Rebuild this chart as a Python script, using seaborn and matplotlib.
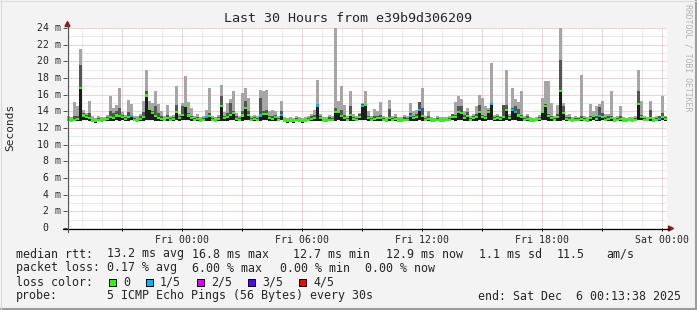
import numpy as np
import pandas as pd
import matplotlib
matplotlib.use("Agg")
import matplotlib.pyplot as plt
import matplotlib.dates as mdates
import matplotlib.transforms as mtransforms
from matplotlib.patches import Rectangle, Polygon
from matplotlib.lines import Line2D
import seaborn as sns

# ---------------- data (9-minute bins, 30 hours) ----------------
title = "Last 30 Hours from e39b9d306209"
start_time = "2025-12-04 18:13:38"
end_time = "2025-12-06 00:13:38"

# median rtt (ms)
med = [
    13.0, 12.9, 13.0, 13.1, 16.8, 13.5, 13.3, 13.2, 12.9, 12.8, 13.0, 12.9, 13.0, 13.1, 13.3, 13.2, 13.5, 13.4, 13.3, 13.1,
    13.3, 13.4, 13.0, 12.9, 13.1, 13.3, 15.9, 14.3, 13.8, 13.4, 13.2, 13.1, 13.0, 13.2, 13.0, 13.1, 13.9, 13.2, 13.6, 14.6,
    13.5, 13.2, 13.0, 13.1, 12.9, 13.0, 13.3, 13.4, 13.0, 12.9, 13.1, 14.6, 13.2, 13.3, 13.6, 13.8, 13.1, 13.0, 13.5, 14.4,
    13.6, 13.0, 13.1, 13.0, 13.5, 13.7, 13.7, 13.2, 13.1, 13.3, 13.0, 13.6, 12.9, 12.8, 12.9, 12.8, 13.0, 12.9, 12.8, 12.9,
    13.0, 13.1, 13.2, 14.7, 13.2, 12.9, 12.9, 13.0, 13.0, 13.9, 13.9, 13.4, 13.2, 13.0, 13.6, 13.1, 13.0, 13.3, 14.6, 14.8,
    13.2, 13.0, 13.1, 13.2, 13.2, 13.0, 12.9, 13.2, 13.0, 13.1, 12.9, 12.9, 13.0, 13.0, 13.4, 13.2, 13.3, 14.2, 13.4, 13.0,
    13.1, 12.9, 12.9, 13.0, 12.9, 12.9, 13.0, 13.0, 13.3, 13.3, 13.9, 13.8, 13.2, 13.4, 13.0, 13.2, 13.3, 13.9, 13.3, 13.2,
    13.9, 14.9, 13.1, 13.2, 13.1, 13.3, 14.2, 13.2, 14.2, 13.9, 13.5, 13.3, 13.0, 13.1, 12.9, 12.9, 13.0, 13.1, 13.9, 14.6,
    13.4, 13.2, 13.0, 13.3, 16.4, 13.8, 13.1, 13.0, 12.9, 13.0, 13.0, 13.1, 13.0, 12.9, 13.2, 13.4, 13.1, 13.4, 13.3, 13.0,
    13.1, 13.2, 12.9, 13.0, 13.1, 12.9, 12.9, 13.0, 12.9, 13.0, 14.9, 13.3, 13.0, 13.0, 13.2, 12.9, 13.0, 13.1, 13.3, 13.1,
]
# lowest ping (ms)
lo = [
    12.8, 12.7, 12.8, 12.9, 12.9, 13.0, 13.0, 12.9, 12.7, 12.6, 12.8, 12.7, 12.8, 12.9, 12.9, 12.9, 13.0, 12.9, 13.0, 12.9,
    12.9, 13.0, 12.8, 12.7, 12.9, 12.9, 13.0, 13.0, 13.0, 12.9, 12.9, 12.9, 12.8, 12.9, 12.8, 12.9, 13.0, 12.9, 13.0, 13.0,
    13.0, 12.9, 12.8, 12.9, 12.7, 12.8, 12.9, 12.9, 12.8, 12.7, 12.9, 12.9, 12.9, 12.9, 13.0, 13.0, 12.9, 12.8, 12.9, 13.0,
    13.0, 12.8, 12.9, 12.8, 12.9, 13.0, 13.0, 12.9, 12.9, 12.9, 12.8, 13.0, 12.7, 12.6, 12.7, 12.6, 12.8, 12.7, 12.6, 12.7,
    12.8, 12.9, 12.9, 12.9, 12.9, 12.7, 12.7, 12.8, 12.8, 12.9, 13.0, 12.9, 12.9, 12.8, 12.9, 12.9, 12.8, 13.0, 13.0, 13.0,
    12.9, 12.8, 12.9, 12.9, 12.9, 12.8, 12.7, 12.9, 12.8, 12.9, 12.7, 12.7, 12.8, 12.8, 12.9, 12.9, 12.9, 13.0, 12.9, 12.8,
    12.9, 12.7, 12.7, 12.8, 12.7, 12.7, 12.8, 12.8, 13.0, 12.9, 13.0, 13.0, 12.9, 12.9, 12.8, 12.9, 12.9, 13.0, 12.9, 12.9,
    13.0, 13.0, 12.9, 12.9, 12.9, 12.9, 13.0, 12.9, 13.0, 13.0, 12.9, 12.9, 12.8, 12.9, 12.7, 12.7, 12.8, 12.9, 13.0, 13.0,
    12.9, 12.9, 12.8, 12.9, 12.9, 13.0, 12.9, 12.8, 12.7, 12.8, 12.8, 12.9, 12.8, 12.7, 12.9, 13.0, 12.9, 12.9, 13.0, 12.8,
    12.9, 12.9, 12.7, 12.8, 12.9, 12.7, 12.7, 12.8, 12.7, 12.8, 13.0, 13.0, 12.8, 12.8, 12.9, 12.7, 12.8, 12.9, 13.0, 12.9,
]
# second-highest ping (ms)
hi = [
    13.1, 13.1, 13.4, 13.5, 19.6, 13.8, 13.6, 13.8, 13.1, 13.0, 13.2, 13.1, 13.1, 13.3, 14.0, 13.8, 14.0, 14.4, 13.6, 13.3,
    13.9, 13.6, 13.2, 13.1, 13.4, 13.9, 16.5, 14.4, 14.0, 14.6, 13.8, 13.4, 13.1, 13.6, 13.2, 13.3, 14.8, 13.4, 14.6, 14.8,
    13.8, 13.5, 13.2, 13.3, 13.1, 13.2, 13.5, 13.8, 13.2, 13.1, 13.3, 15.8, 13.5, 13.8, 15.0, 14.0, 13.4, 13.2, 14.1, 15.2,
    14.0, 13.2, 13.3, 13.2, 15.6, 14.0, 14.2, 13.5, 13.4, 13.6, 13.2, 14.0, 13.1, 13.0, 13.1, 13.0, 13.2, 13.1, 13.0, 13.1,
    13.2, 13.4, 13.6, 14.9, 13.5, 13.1, 13.1, 13.3, 13.2, 14.4, 14.1, 14.2, 13.6, 13.2, 14.6, 13.3, 13.2, 13.7, 14.9, 14.9,
    13.5, 13.2, 13.5, 13.4, 13.6, 13.2, 13.1, 14.3, 13.2, 13.3, 13.1, 13.1, 13.3, 13.2, 13.8, 13.5, 13.7, 15.1, 14.4, 13.2,
    13.4, 13.1, 13.0, 13.2, 13.1, 13.1, 13.1, 13.2, 13.7, 13.6, 14.6, 14.6, 13.6, 13.9, 13.2, 13.5, 13.7, 14.8, 13.6, 13.5,
    14.2, 15.0, 13.3, 13.5, 13.3, 14.8, 14.8, 13.4, 14.4, 14.6, 14.3, 13.6, 13.2, 13.4, 13.1, 13.0, 13.1, 13.3, 14.0, 14.9,
    13.7, 13.5, 13.2, 13.7, 20.2, 14.6, 13.3, 13.3, 13.1, 13.2, 13.2, 13.4, 13.2, 13.1, 13.5, 13.6, 13.5, 14.5, 13.8, 13.3,
    13.4, 13.5, 13.1, 13.2, 13.4, 13.1, 13.0, 13.1, 13.1, 13.2, 16.4, 13.6, 13.2, 13.1, 14.2, 13.1, 13.2, 13.4, 13.8, 13.3,
]
# highest ping (ms)
top = [
    13.4, 13.3, 15.1, 14.6, 21.5, 14.2, 13.8, 15.2, 13.4, 13.2, 13.5, 13.3, 13.3, 13.6, 15.9, 14.4, 14.8, 16.8, 13.9, 13.6,
    15.4, 14.9, 13.5, 13.4, 13.7, 15.2, 19.0, 15.2, 15.0, 16.4, 14.9, 14.0, 13.4, 14.8, 13.5, 13.6, 17.0, 13.7, 15.0, 18.2,
    15.1, 14.4, 13.5, 13.7, 13.3, 13.4, 14.2, 16.8, 13.4, 13.3, 13.6, 17.2, 13.9, 15.0, 15.5, 16.4, 13.8, 13.5, 16.2, 16.8,
    15.6, 13.5, 13.6, 13.4, 16.6, 16.4, 16.6, 14.0, 14.2, 14.0, 13.5, 15.2, 13.3, 13.2, 13.3, 13.2, 13.5, 13.3, 13.2, 13.3,
    13.4, 13.7, 14.2, 17.8, 13.7, 13.3, 13.3, 13.6, 13.5, 24.0, 15.3, 17.0, 14.8, 13.5, 16.4, 13.7, 13.4, 13.8, 15.0, 16.4,
    14.0, 13.4, 14.3, 14.0, 15.1, 13.4, 13.3, 15.4, 13.4, 13.7, 13.3, 13.3, 13.6, 13.5, 15.0, 14.0, 14.2, 15.1, 16.8, 13.5,
    14.0, 13.3, 13.2, 13.4, 13.3, 13.3, 13.3, 13.4, 13.7, 15.1, 15.8, 15.5, 14.0, 14.4, 13.5, 13.7, 14.6, 16.0, 15.6, 14.6,
    14.4, 19.8, 13.6, 13.7, 13.5, 14.8, 19.0, 13.7, 16.8, 15.5, 15.1, 16.4, 13.5, 13.7, 13.3, 13.2, 13.3, 13.6, 15.6, 17.6,
    17.6, 15.0, 13.4, 14.8, 24.0, 15.0, 13.6, 13.7, 13.3, 13.4, 13.3, 18.4, 13.4, 13.3, 14.9, 14.0, 14.7, 14.9, 15.3, 13.7,
    13.7, 16.4, 13.3, 13.4, 14.7, 13.3, 13.2, 13.3, 13.3, 13.4, 19.0, 15.3, 13.4, 13.3, 15.2, 13.3, 13.4, 13.5, 15.9, 13.5,
]
# bins in which 1 of 5 pings was lost
loss_1of5_bins = [21, 46, 64, 71, 83, 98, 114, 117, 141, 148, 149, 177, 197]

loss_labels = ["0", "1/5", "2/5", "3/5", "4/5"]
loss_colors = ["#26ff00", "#00b8ff", "#dd00ff", "#5e00ff", "#ff0000"]

y_ticks = [0, 2, 4, 6, 8, 10, 12, 14, 16, 18, 20, 22, 24]
x_tick_labels = ["Fri 00:00", "Fri 06:00", "Fri 12:00", "Fri 18:00", "Sat 00:00"]

stats_rows = [
    ("median rtt:", [("13.2 ms avg", 107), ("16.8 ms max", 192.5), ("12.7 ms min", 293.3),
                     ("12.9 ms now", 385.8), ("1.1 ms sd", 479), ("11.5", 557), ("am/s", 606.7)]),
    ("packet loss:", [("0.17 % avg", 107), ("6.00 % max", 192.5), ("0.00 % min", 280),
                      ("0.00 % now", 365.3)]),
]
probe_text = "5 ICMP Echo Pings (56 Bytes) every 30s"
end_text = "end: Sat Dec  6 00:13:38 2025"

# ---------------- figure ----------------
W, H, DPI = 697, 310, 100
sns.set_style("white")
MONO = ["DejaVu Sans Mono", "DejaVu Sans"]
plt.rcParams["font.family"] = MONO

fig = plt.figure(figsize=(W / DPI, H / DPI), dpi=DPI, facecolor="#f3f3f3")
L, R, T, B = 67, 667, 28, 228


def fx(px):
    return px / W


def fy(py):
    return 1 - py / H


ax = fig.add_axes([fx(L), fy(B), (R - L) / W, (B - T) / H])
ax.set_facecolor("white")
for s in ax.spines.values():
    s.set_visible(False)

start = pd.Timestamp(start_time)
end = pd.Timestamp(end_time)
n = len(med)
step = (end - start) / n
times = pd.date_range(start + step / 2, periods=n, freq=step)
xs = mdates.date2num(times.to_pydatetime())
wd = step / pd.Timedelta(days=1)

x0, x1 = mdates.date2num(start.to_pydatetime()), mdates.date2num(end.to_pydatetime())
ax.set_xlim(x0, x1)
ax.set_ylim(0, 24)

# grid
dot = (0, (1, 1))
GRID_MINOR = "#d6d6d6"
GRID_MAJOR = "#e8a6a6"
for v in range(1, 25):
    ax.axhline(v, color=GRID_MAJOR if v % 2 == 0 else GRID_MINOR, lw=0.72, ls=dot, zorder=0.5)
hours = pd.date_range(start.ceil("h"), end, freq="h")
for h in hours:
    xv = mdates.date2num(h.to_pydatetime())
    ax.axvline(xv, color=GRID_MAJOR if h.hour % 3 == 0 else GRID_MINOR, lw=0.72, ls=dot, zorder=0.5)

# smoke
top_a, hi_a, lo_a, med_a = map(np.array, (top, hi, lo, med))
ax.bar(xs, top_a - lo_a, bottom=lo_a, width=wd, color="#a6a6a6", linewidth=0, antialiased=False, zorder=2)
ax.bar(xs, hi_a - lo_a, bottom=lo_a, width=wd, color="#555555", linewidth=0, antialiased=False, zorder=3)
ax.bar(xs, med_a - lo_a, bottom=lo_a, width=wd, color="#1c1c1c", linewidth=0, antialiased=False, zorder=4)

# median, coloured by loss
loss = np.zeros(n, dtype=int)
loss[loss_1of5_bins] = 1
df = pd.DataFrame({"t": xs, "median": med_a, "loss": [loss_labels[k] for k in loss]})
df = df.sort_values("loss", kind="stable")
bar_marker = [(-1.5, -1), (1.5, -1), (1.5, 1), (-1.5, 1), (-1.5, -1)]
sns.scatterplot(data=df, x="t", y="median", hue="loss",
                palette={k: c for k, c in zip(loss_labels, loss_colors)},
                marker=bar_marker, s=6.2, linewidth=0, legend=False, ax=ax, zorder=5)
ax.set_xlabel("")
ax.set_ylabel("")

# ticks
major = [mdates.date2num(h.to_pydatetime()) for h in hours if h.hour % 6 == 0]
minor3 = [mdates.date2num(h.to_pydatetime()) for h in hours if h.hour % 3 == 0 and h.hour % 6 != 0]
ax.set_xticks(major, x_tick_labels)
ax.set_xticks(minor3, minor=True)
ax.tick_params(axis="x", which="both", length=2.2, width=0.72, color="#000000", pad=2.5,
               labelsize=7.1, bottom=True, direction="out")
ax.set_yticks(y_ticks, [""] * len(y_ticks))
ax.tick_params(axis="y", which="both", length=2.9, width=0.72, color="#555555", left=True, direction="out")
ytr = mtransforms.blended_transform_factory(fig.transFigure, ax.transData)
for v in y_ticks:
    if v == 0:
        ax.text(fx(48), v, "0", transform=ytr, ha="right", va="center", fontsize=7.1)
    else:
        ax.text(fx(60.5), v, f"{v} m", transform=ytr, ha="right", va="center", fontsize=7.1)

# axis lines and arrows
AX_RED = "#8b1c1c"
fig.add_artist(Line2D([fx(63), fx(669)], [fy(228.5), fy(228.5)], color="#000000", lw=0.9))
fig.add_artist(Line2D([fx(67.5), fx(67.5)], [fy(232), fy(25)], color="#555555", lw=0.9))
fig.add_artist(Polygon([(fx(65), fy(26.5)), (fx(70), fy(26.5)), (fx(67.5), fy(21.5))],
                       closed=True, color=AX_RED, transform=fig.transFigure))
fig.add_artist(Polygon([(fx(668.5), fy(226)), (fx(668.5), fy(231)), (fx(673.5), fy(228.5))],
                       closed=True, color=AX_RED, transform=fig.transFigure))

# titles
fig.text(fx(348), fy(18.5), title, ha="center", va="center", fontsize=9.6)
fig.text(fx(10), fy(127), "Seconds", rotation=90, ha="center", va="center", fontsize=8)
fig.text(fx(688), fy(4), "RRDTOOL / TOBI OETIKER", rotation=270, ha="center", va="top",
         fontsize=5.9, color="#b4b4b4")

# legend / stats
LS = 8.4
row_y = [254, 268, 282, 296]
for (label, items), yy in zip(stats_rows, row_y[:2]):
    fig.text(fx(16), fy(yy), label, ha="left", va="center", fontsize=LS)
    for txt, xx in items:
        fig.text(fx(xx), fy(yy), txt, ha="left", va="center", fontsize=LS)

fig.text(fx(16), fy(row_y[2]), "loss color:", ha="left", va="center", fontsize=LS)
box_x = [108.7, 145.8, 196.9, 247.6, 298.7]
for lab, col, bx in zip(loss_labels, loss_colors, box_x):
    fig.add_artist(Rectangle((fx(bx), fy(row_y[2] + 3.5)), 7 / W, 7 / H, transform=fig.transFigure,
                             facecolor=col, edgecolor="#000000", lw=0.72))
    fig.text(fx(bx + 14.3), fy(row_y[2]), lab, ha="left", va="center", fontsize=LS)

fig.text(fx(16), fy(row_y[3]), "probe:", ha="left", va="center", fontsize=LS)
fig.text(fx(107), fy(row_y[3]), probe_text, ha="left", va="center", fontsize=LS)
fig.text(fx(478), fy(row_y[3]), end_text, ha="left", va="center", fontsize=LS)

# frame shading
fig.add_artist(Line2D([0, 1], [fy(309), fy(309)], color="#9c9c9c", lw=1.5))
fig.add_artist(Line2D([fx(696), fx(696)], [0, 1], color="#9c9c9c", lw=1.5))
fig.add_artist(Line2D([0, 1], [fy(0.5), fy(0.5)], color="#dcdcdc", lw=0.8))
fig.add_artist(Line2D([fx(0.5), fx(0.5)], [0, 1], color="#dcdcdc", lw=0.8))

fig.savefig("out.png", dpi=DPI, facecolor=fig.get_facecolor())
